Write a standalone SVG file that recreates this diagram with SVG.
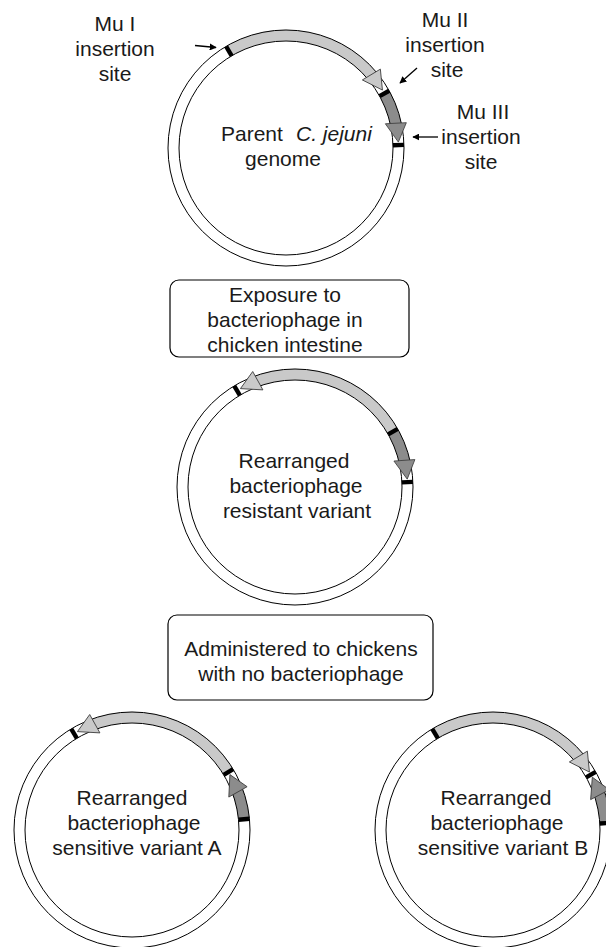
<svg xmlns="http://www.w3.org/2000/svg" xmlns:xlink="http://www.w3.org/1999/xlink" width="606" height="947" viewBox="0 0 606 947">
<style>
text{font-family:"Liberation Sans",Arial,sans-serif;font-size:21px;fill:#1a1a1a}
.c{text-anchor:middle}
.ring{fill:none;stroke:#000;stroke-width:1}
.band{fill:none;stroke-width:11}
.light{stroke:#c9c9c9}
.dark{stroke:#8c8c8c}
.hl{fill:#c9c9c9;stroke:#3a3a3a;stroke-width:0.8}
.hd{fill:#8c8c8c;stroke:#3a3a3a;stroke-width:0.8}
.mk{fill:#000}
.box{fill:#fff;stroke:#000;stroke-width:1.2}
.ptr{stroke:#000;stroke-width:1.3;fill:none}
</style>
<defs>
<polygon id="hcw" points="0,-112.5 -19,-121.5 -19,-100.5"/>
<polygon id="hccw" points="0,-112.5 19,-121.5 19,-100.5"/>
<rect id="mk" x="-2.2" y="-118" width="4.4" height="11"/>
<marker id="ah" viewBox="0 0 10 10" refX="9" refY="5" markerWidth="7" markerHeight="7" orient="auto" markerUnits="userSpaceOnUse">
<path d="M0,0 L10,5 L0,10 z" fill="#000"/>
</marker>
</defs>

<g id="parent-genome">
<circle class="band light" r="112.5" stroke-dasharray="158.1 800" transform="translate(286,148) rotate(-120)"/>
<circle class="band dark" r="112.5" stroke-dasharray="34.4 800" transform="translate(286,148) rotate(-29)"/>
<use xlink:href="#mk" class="mk" transform="translate(286,148) rotate(-30.5)"/>
<use xlink:href="#mk" class="mk" transform="translate(286,148) rotate(61)"/>
<use xlink:href="#mk" class="mk" transform="translate(286,148) rotate(88.5)"/>
<circle class="ring" cx="286" cy="148" r="118"/>
<circle class="ring" cx="286" cy="148" r="107"/>
<use xlink:href="#hcw" class="hl" transform="translate(286,148) rotate(59)"/>
<use xlink:href="#hcw" class="hd" transform="translate(286,148) rotate(87)"/>
<text x="221" y="141">Parent</text>
<text x="296" y="141" font-style="italic">C. jejuni</text>
<text class="c" x="283" y="166">genome</text>
</g>

<g id="mu1-label">
<text class="c" x="115" y="31">Mu I</text>
<text class="c" x="115" y="56">insertion</text>
<text class="c" x="115" y="81">site</text>
</g>
<g id="mu2-label">
<text class="c" x="445" y="27">Mu II</text>
<text class="c" x="445" y="52">insertion</text>
<text class="c" x="447" y="77">site</text>
</g>
<g id="mu3-label">
<text class="c" x="483" y="119">Mu III</text>
<text class="c" x="481" y="144">insertion</text>
<text class="c" x="481" y="169">site</text>
</g>

<g id="box-exposure">
<rect class="box" x="170" y="280" width="239" height="77" rx="9"/>
<text class="c" x="285" y="302">Exposure to</text>
<text class="c" x="285" y="327">bacteriophage in</text>
<text class="c" x="285" y="352">chicken intestine</text>
</g>

<g id="resistant-variant">
<circle class="band light" r="112.5" stroke-dasharray="158.1 800" transform="translate(295,487) rotate(-110.5)"/>
<circle class="band dark" r="112.5" stroke-dasharray="32.4 800" transform="translate(295,487) rotate(-29)"/>
<use xlink:href="#mk" class="mk" transform="translate(295,487) rotate(-31)"/>
<use xlink:href="#mk" class="mk" transform="translate(295,487) rotate(60.5)"/>
<use xlink:href="#mk" class="mk" transform="translate(295,487) rotate(87.5)"/>
<circle class="ring" cx="295" cy="487" r="118"/>
<circle class="ring" cx="295" cy="487" r="107"/>
<use xlink:href="#hccw" class="hl" transform="translate(295,487) rotate(-29)"/>
<use xlink:href="#hcw" class="hd" transform="translate(295,487) rotate(86)"/>
<text class="c" x="294" y="468">Rearranged</text>
<text class="c" x="296" y="493">bacteriophage</text>
<text class="c" x="297" y="518">resistant variant</text>
</g>

<g id="box-administered">
<rect class="box" x="168" y="615" width="265" height="85" rx="9"/>
<text class="c" x="301" y="656">Administered to chickens</text>
<text class="c" x="301" y="681">with no bacteriophage</text>
</g>

<g id="sensitive-variant-a">
<circle class="band light" r="112.5" stroke-dasharray="157.1 800" transform="translate(132,830) rotate(-110.5)"/>
<circle class="band dark" r="112.5" stroke-dasharray="28.5 800" transform="translate(132,830) rotate(-20.5)"/>
<use xlink:href="#mk" class="mk" transform="translate(132,830) rotate(-31)"/>
<use xlink:href="#mk" class="mk" transform="translate(132,830) rotate(59)"/>
<use xlink:href="#mk" class="mk" transform="translate(132,830) rotate(84.5)"/>
<circle class="ring" cx="132" cy="830" r="118"/>
<circle class="ring" cx="132" cy="830" r="107"/>
<use xlink:href="#hccw" class="hl" transform="translate(132,830) rotate(-29)"/>
<use xlink:href="#hccw" class="hd" transform="translate(132,830) rotate(60.5)"/>
<text class="c" x="132" y="805">Rearranged</text>
<text class="c" x="134" y="830">bacteriophage</text>
<text class="c" x="137" y="855">sensitive variant A</text>
</g>

<g id="sensitive-variant-b">
<circle class="band light" r="112.5" stroke-dasharray="160.0 800" transform="translate(493,830) rotate(-121)"/>
<circle class="band dark" r="112.5" stroke-dasharray="30.4 800" transform="translate(493,830) rotate(-19.5)"/>
<use xlink:href="#mk" class="mk" transform="translate(493,830) rotate(-31)"/>
<use xlink:href="#mk" class="mk" transform="translate(493,830) rotate(60.5)"/>
<use xlink:href="#mk" class="mk" transform="translate(493,830) rotate(86.5)"/>
<circle class="ring" cx="493" cy="830" r="118"/>
<circle class="ring" cx="493" cy="830" r="107"/>
<use xlink:href="#hcw" class="hl" transform="translate(493,830) rotate(59)"/>
<use xlink:href="#hccw" class="hd" transform="translate(493,830) rotate(62)"/>
<text class="c" x="496" y="805">Rearranged</text>
<text class="c" x="497" y="830">bacteriophage</text>
<text class="c" x="503" y="855">sensitive variant B</text>
</g>

<g id="connectors">
<line class="ptr" x1="195" y1="45.5" x2="216" y2="47.5" marker-end="url(#ah)"/>
<line class="ptr" x1="417" y1="68" x2="400" y2="83" marker-end="url(#ah)"/>
<line class="ptr" x1="438" y1="137" x2="413" y2="137" marker-end="url(#ah)"/>
</g>
</svg>
